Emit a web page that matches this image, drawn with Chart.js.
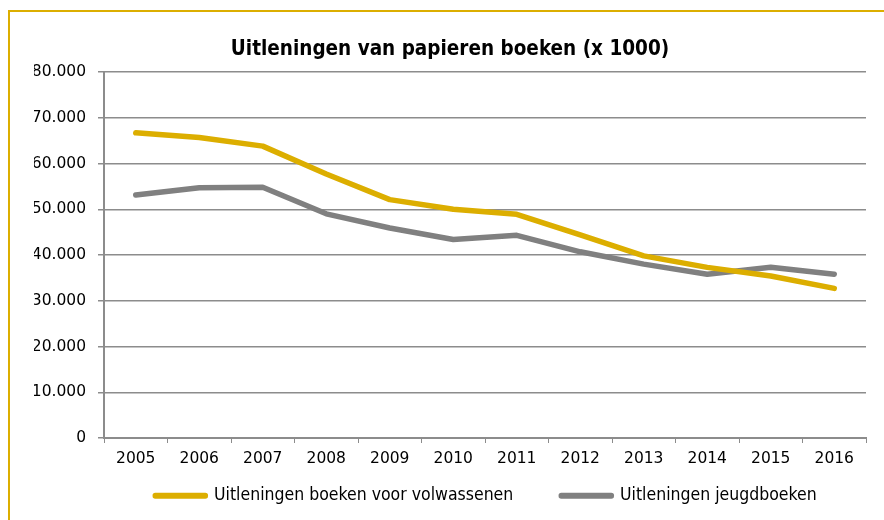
<!DOCTYPE html>
<html><head><meta charset="utf-8">
<script src="https://cdn.jsdelivr.net/npm/chart.js@4"></script>
<style>
html,body{margin:0;padding:0;background:#fff;}
#wrap{position:relative;width:884px;height:520px;overflow:hidden;}
#frame{position:absolute;left:8px;top:10px;width:900px;height:600px;border-left:2px solid #DCAE00;border-top:2px solid #DCAE00;box-sizing:border-box;}
canvas{position:absolute;left:0;top:0;}
</style></head>
<body><div id="wrap"><div id="frame"></div><canvas id="c" width="884" height="520"></canvas></div>
<script>
const categories = ['2005','2006','2007','2008','2009','2010','2011','2012','2013','2014','2015','2016'];
const volwassenen = [66700, 65700, 63800, 57700, 52100, 50000, 48900, 44400, 39800, 37300, 35400, 32700];
const jeugd = [53100, 54700, 54800, 49000, 45900, 43400, 44300, 40700, 38000, 35800, 37300, 35800];
const yTicks = [0, 10000, 20000, 30000, 40000, 50000, 60000, 70000, 80000];
const seriesNames = ['Uitleningen boeken voor volwassenen', 'Uitleningen jeugdboeken'];
const titleText = 'Uitleningen van papieren boeken (x 1000)';

const fmt = v => v === 0 ? '0' : v.toLocaleString('de-DE');
const narrow = "'Liberation Sans Narrow', 'DejaVu Sans Condensed', sans-serif";
const tickFont = "'DejaVu Sans', Verdana, sans-serif";

const legendShift = {
  id: 'legendShift',
  afterLayout(chart) {
    const lg = chart.legend;
    if (lg) {
      lg.left += 36; lg.right += 36;
      lg.top = 439; lg.bottom = 520; lg.height = 81;
    }
  }
};

new Chart(document.getElementById('c'), {
  type: 'line',
  data: {
    labels: categories,
    datasets: [
      {label: seriesNames[0], data: volwassenen, borderColor: '#DCAE00', backgroundColor: '#DCAE00', borderWidth: 5.5, pointRadius: 0, tension: 0, borderCapStyle: 'round', borderJoinStyle: 'round'},
      {label: seriesNames[1], data: jeugd, borderColor: '#808080', backgroundColor: '#808080', borderWidth: 5.5, pointRadius: 0, tension: 0, borderCapStyle: 'round', borderJoinStyle: 'round'}
    ]
  },
  plugins: [legendShift],
  options: {
    responsive: false,
    animation: false,
    layout: {padding: {left: 34, right: 18, top: 0, bottom: 0}},
    plugins: {
      title: {display: true, text: titleText, color: '#000', font: {family: narrow, size: 20.5, weight: 'bold'}, padding: {top: 37, bottom: 10.4}},
      legend: {position: 'bottom', maxHeight: 42, labels: {color: '#000', boxWidth: 50, boxHeight: 0.5, padding: 48, font: {family: narrow, size: 17.5}}},
      tooltip: {enabled: false}
    },
    scales: {
      x: {
        offset: true,
        grid: {offset: true, drawOnChartArea: false, color: '#8c8c8c', tickLength: 5, tickColor: '#8c8c8c'},
        border: {color: '#8c8c8c', width: 2},
        ticks: {color: '#000', padding: 7, font: {family: tickFont, size: 15.5}, maxRotation: 0, autoSkip: false},
        afterFit: a => { a.height = 40; }
      },
      y: {
        min: 0, max: 80000,
        afterBuildTicks: a => { a.ticks = yTicks.map(v => ({value: v})); },
        grid: {color: '#8c8c8c', lineWidth: 1.5, tickLength: 6, tickColor: '#8c8c8c'},
        border: {color: '#8c8c8c', width: 2},
        ticks: {color: '#000', padding: 12, font: {family: tickFont, size: 15.5}, callback: v => fmt(v)},
        afterFit: a => { a.width = 70; }
      }
    }
  }
});
</script></body></html>
